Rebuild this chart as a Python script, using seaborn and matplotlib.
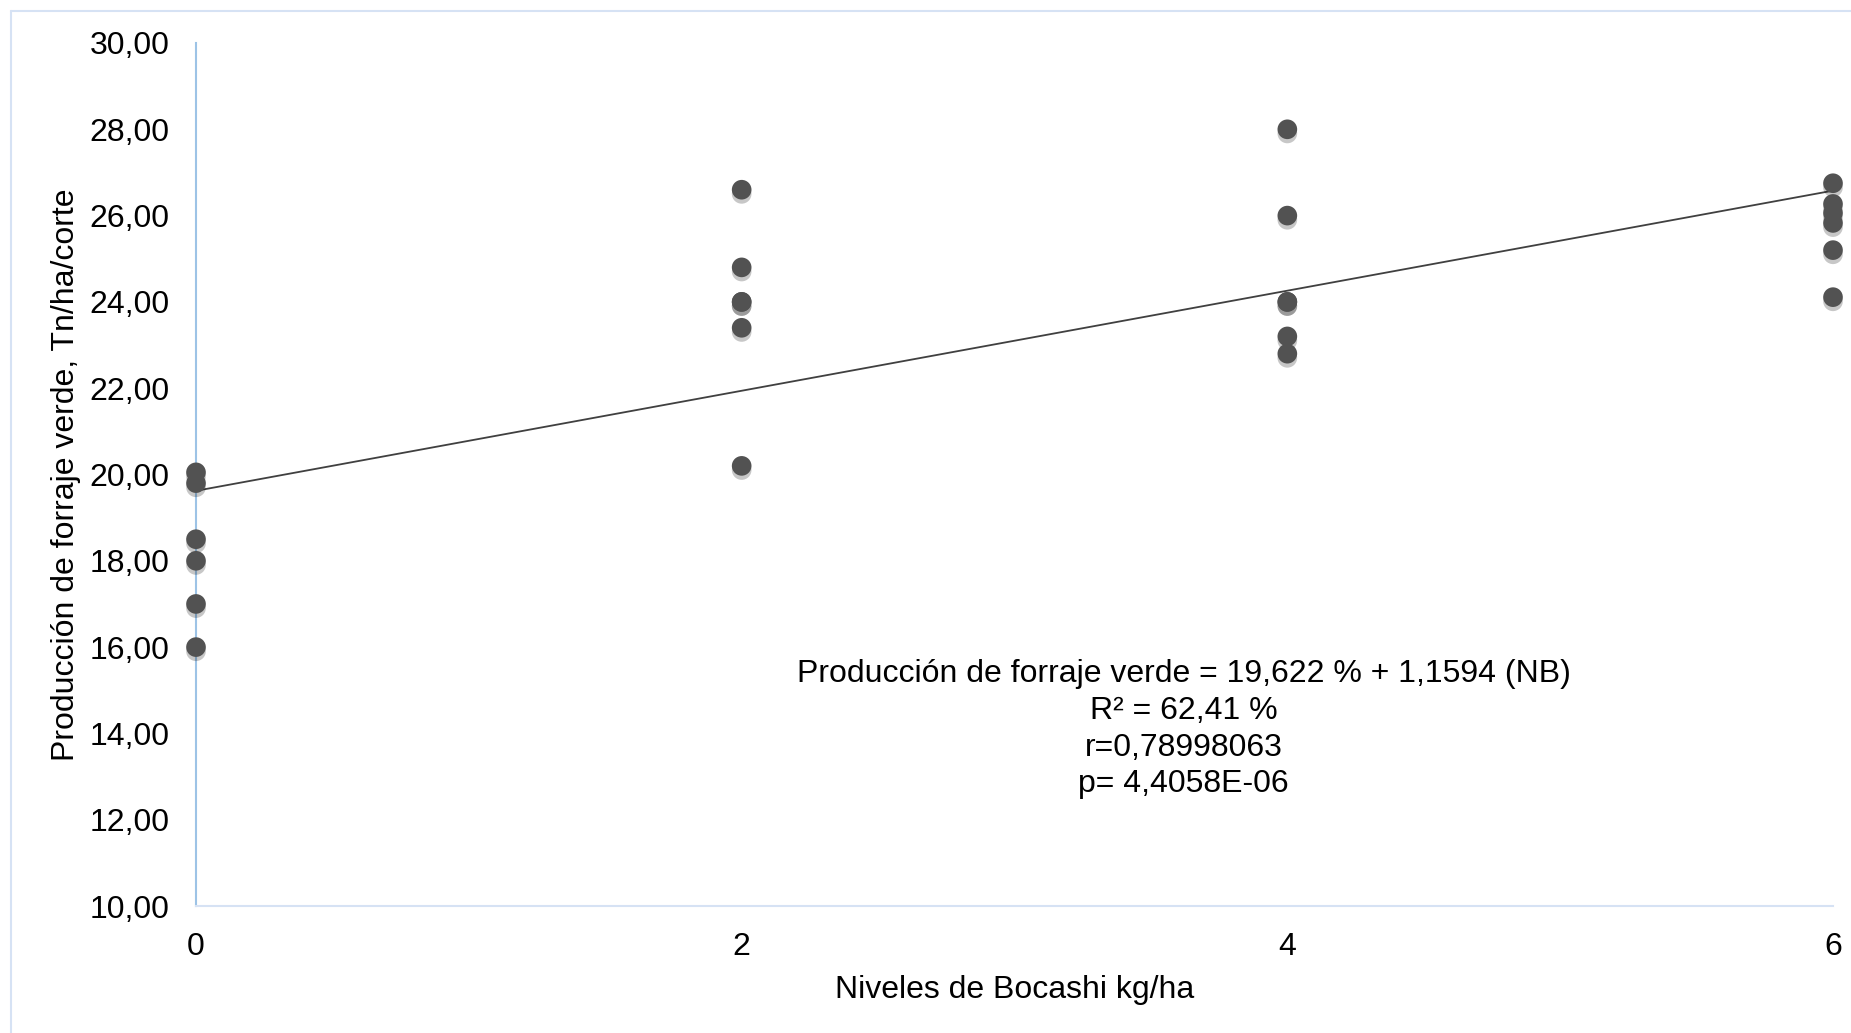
import numpy as np
import pandas as pd
import matplotlib
matplotlib.use("Agg")
import matplotlib.pyplot as plt
import matplotlib.patheffects as pe
from matplotlib.lines import Line2D
import seaborn as sns

# Bocashi level (kg/ha) for each plot and green forage yield (Tn/ha/corte)
niveles = [0, 0, 0, 0, 0, 0,
           2, 2, 2, 2, 2, 2,
           4, 4, 4, 4, 4, 4,
           6, 6, 6, 6, 6, 6]
produccion = [20.05, 19.80, 18.50, 18.00, 17.00, 16.00,
              26.60, 24.80, 24.00, 24.00, 23.40, 20.20,
              28.00, 26.00, 24.00, 24.00, 23.20, 22.80,
              26.75, 26.27, 26.06, 25.83, 25.20, 24.11]

# Fitted linear model reported on the chart
intercepto = 19.622
pendiente = 1.1594

x_ticks = [0, 2, 4, 6]
y_ticks = [10, 12, 14, 16, 18, 20, 22, 24, 26, 28, 30]

ecuacion = ["Producción de forraje verde = 19,622 % + 1,1594 (NB)",
            "R² = 62,41 %",
            "r=0,78998063",
            "p= 4,4058E-06"]

df = pd.DataFrame({"nivel": niveles, "produccion": produccion})

sns.set_theme(style="white")
plt.rcParams["font.family"] = ["Liberation Sans", "DejaVu Sans"]

FS = 23
W, H = 1851, 1033
fig = plt.figure(figsize=(W / 100, H / 100), dpi=100)
ax = fig.add_axes([196 / W, 1 - 906 / H, (1833 - 196) / W, (906 - 43) / H])

# regression line from the reported coefficients
xs = np.array([0, 6])
ax.plot(xs, intercepto + pendiente * xs, color="#404040", lw=1.3, zorder=2)

sns.scatterplot(data=df, x="nivel", y="produccion", ax=ax, s=200,
                color="#525252", edgecolor="none", zorder=3, clip_on=False,
                legend=False)
for coll in ax.collections:
    coll.set_path_effects([pe.SimplePatchShadow(offset=(0, -3), alpha=0.22,
                                                shadow_rgbFace="#000000"),
                           pe.Normal()])

ax.set_xlim(0, 6)
ax.set_ylim(10, 30)
ax.set_xticks(x_ticks)
ax.set_xticklabels([str(t) for t in x_ticks])
ax.set_yticks(y_ticks)
ax.set_yticklabels([f"{t:.2f}".replace(".", ",") for t in y_ticks])
ax.tick_params(axis="both", length=0, labelsize=FS, colors="black")
ax.tick_params(axis="y", pad=19)
ax.tick_params(axis="x", pad=19)

for side in ["top", "right"]:
    ax.spines[side].set_visible(False)
ax.spines["left"].set_color("#9DC3E6")
ax.spines["left"].set_linewidth(1.5)
ax.spines["bottom"].set_color("#D6E2F4")
ax.spines["bottom"].set_linewidth(1.5)

ax.set_xlabel("Niveles de Bocashi kg/ha", fontsize=FS, color="black", labelpad=9)
ax.set_ylabel("Producción de forraje verde, Tn/ha/corte", fontsize=FS,
              color="black", labelpad=6)

ax.text(3.62, 14.1, "\n".join(ecuacion), ha="center", va="center",
        fontsize=FS, color="black", linespacing=1.3)

# chart area border (top and left edges)
fig.add_artist(Line2D([11 / W, 1.0], [1 - 11 / H, 1 - 11 / H],
                      color="#D6E2F4", lw=1.5, transform=fig.transFigure))
fig.add_artist(Line2D([11 / W, 11 / W], [0.0, 1 - 11 / H],
                      color="#D6E2F4", lw=1.5, transform=fig.transFigure))

fig.savefig("out.png", dpi=100, facecolor="white")
